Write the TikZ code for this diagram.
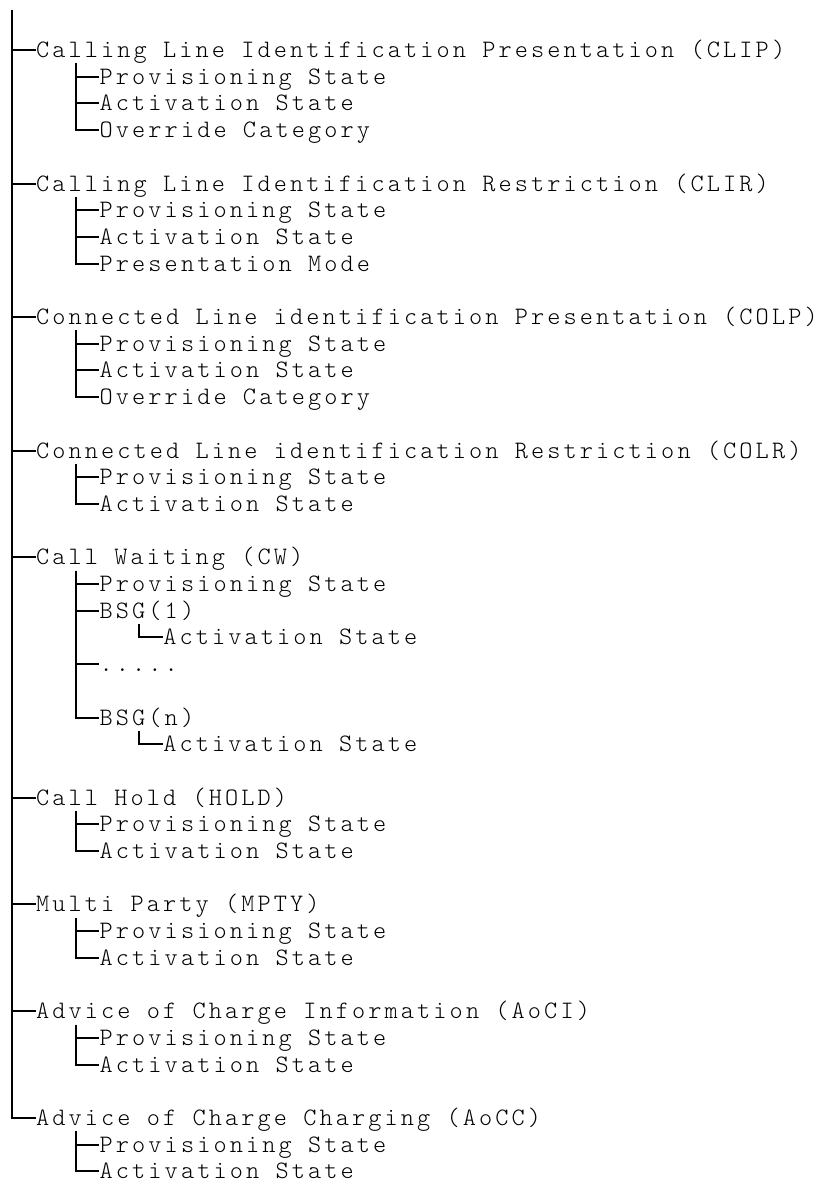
\documentclass[tikz,border=0pt]{standalone}
\usepackage{fontspec}
\newfontfamily\treefont{Latin Modern Mono Light}[LetterSpace=12.4]
\usetikzlibrary{calc,trees}
\tikzset{
  item/.style={font=\treefont\fontsize{18.8}{20}\selectfont, anchor=west,
    inner sep=0pt, text height=11.25pt, text depth=0pt},
  branch/.style={draw, line width=1.5pt}
}
\begin{document}
\begin{tikzpicture}[x=11.925pt, y=-20.025pt,
    grow via three points={one child at (4,1) and two children at (4,1) and (4,2)},
    growth parent anchor=west,
    every node/.style={item},
    edge from parent/.style={branch},
    edge from parent path={($(\tikzparentnode.west)+(2.5,.5)$) |- (\tikzchildnode.west)}]
  \useasboundingbox (-0.2516,-0.8727) rectangle (51.07,43.32);
  \node (root) at (-2,-1) {}
    child [missing]
    child {node (clip) {Calling Line Identification Presentation (CLIP)}
      child {node (clipprov) {Provisioning State}}
      child {node (clipact) {Activation State}}
      child {node (clipover) {Override Category}}
    }
    child [missing] child [missing] child [missing] child [missing]
    child {node (clir) {Calling Line Identification Restriction (CLIR)}
      child {node (clirprov) {Provisioning State}}
      child {node (cliract) {Activation State}}
      child {node (clirmode) {Presentation Mode}}
    }
    child [missing] child [missing] child [missing] child [missing]
    child {node (colp) {Connected Line identification Presentation (COLP)}
      child {node (colpprov) {Provisioning State}}
      child {node (colpact) {Activation State}}
      child {node (colpover) {Override Category}}
    }
    child [missing] child [missing] child [missing] child [missing]
    child {node (colr) {Connected Line identification Restriction (COLR)}
      child {node (colrprov) {Provisioning State}}
      child {node (colract) {Activation State}}
    }
    child [missing] child [missing] child [missing]
    child {node (cw) {Call Waiting (CW)}
      child {node (cwprov) {Provisioning State}}
      child {node (cwbsgone) {BSG(1)}
        child {node (cwbsgoneact) {Activation State}}
      }
      child [missing]
      child {node (cwdots) {.....}}
      child [missing]
      child {node (cwbsgn) {BSG(n)}
        child {node (cwbsgnact) {Activation State}}
      }
    }
    child [missing] child [missing] child [missing] child [missing]
    child [missing] child [missing] child [missing] child [missing]
    child {node (hold) {Call Hold (HOLD)}
      child {node (holdprov) {Provisioning State}}
      child {node (holdact) {Activation State}}
    }
    child [missing] child [missing] child [missing]
    child {node (mpty) {Multi Party (MPTY)}
      child {node (mptyprov) {Provisioning State}}
      child {node (mptyact) {Activation State}}
    }
    child [missing] child [missing] child [missing]
    child {node (aoci) {Advice of Charge Information (AoCI)}
      child {node (aociprov) {Provisioning State}}
      child {node (aociact) {Activation State}}
    }
    child [missing] child [missing] child [missing]
    child {node (aocc) {Advice of Charge Charging (AoCC)}
      child {node (aoccprov) {Provisioning State}}
      child {node (aoccact) {Activation State}}
    };
\end{tikzpicture}
\end{document}
